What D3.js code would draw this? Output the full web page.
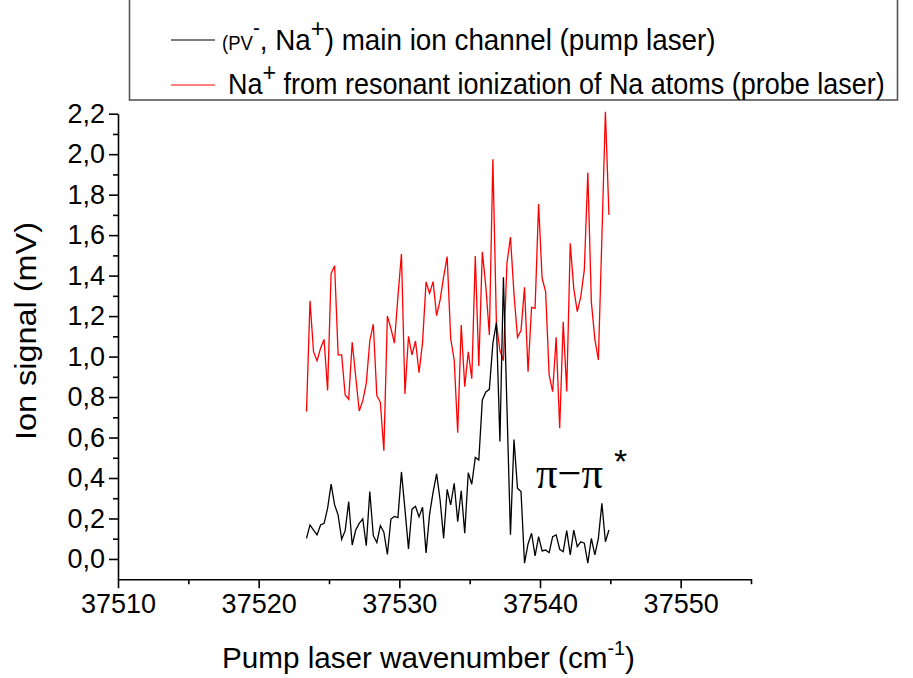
<!DOCTYPE html>
<html>
<head>
<meta charset="utf-8">
<script src="https://cdn.jsdelivr.net/npm/d3@7"></script>
<style>
  html, body { margin: 0; padding: 0; background: #fff; }
  svg { display: block; font-family: "Liberation Sans", Arial, sans-serif; }
</style>
</head>
<body>
<svg id="chart" width="913" height="678"></svg>
<script>
// ---- Data ----
const wavenumber = [
  37523.40, 37523.65, 37523.90, 37524.15, 37524.40, 37524.65, 37524.90, 37525.15, 37525.40, 37525.65,
  37525.90, 37526.15, 37526.40, 37526.65, 37526.90, 37527.15, 37527.40, 37527.65, 37527.90, 37528.15,
  37528.40, 37528.65, 37528.90, 37529.15, 37529.40, 37529.65, 37529.90, 37530.15, 37530.40, 37530.65,
  37530.90, 37531.15, 37531.40, 37531.65, 37531.90, 37532.15, 37532.40, 37532.65, 37532.90, 37533.15,
  37533.40, 37533.65, 37533.90, 37534.15, 37534.40, 37534.65, 37534.90, 37535.15, 37535.40, 37535.65,
  37535.90, 37536.15, 37536.40, 37536.65, 37536.90, 37537.15, 37537.40, 37537.65, 37537.90, 37538.15,
  37538.40, 37538.65, 37538.90, 37539.15, 37539.40, 37539.65, 37539.90, 37540.15, 37540.40, 37540.65,
  37540.90, 37541.15, 37541.40, 37541.65, 37541.90, 37542.15, 37542.40, 37542.65, 37542.90, 37543.15,
  37543.40, 37543.65, 37543.90, 37544.15, 37544.40, 37544.65, 37544.90
];

// (PV-, Na+) main ion channel (pump laser) — black
const mainIonSignal = [
  0.102, 0.168, 0.143, 0.119, 0.168, 0.176, 0.250, 0.370, 0.267, 0.217,
  0.097, 0.140, 0.283, 0.069, 0.143, 0.176, 0.198, 0.066, 0.333, 0.115,
  0.081, 0.165, 0.132, 0.022, 0.197, 0.210, 0.204, 0.430, 0.245, 0.050,
  0.246, 0.260, 0.208, 0.256, 0.030, 0.220, 0.330, 0.420, 0.290, 0.102,
  0.344, 0.267, 0.374, 0.184, 0.337, 0.127, 0.426, 0.369, 0.502, 0.489,
  0.786, 0.825, 0.838, 1.066, 1.168, 0.580, 1.392, 0.750, 0.120, 0.590,
  0.349, 0.333, -0.021, 0.074, 0.127, 0.015, 0.110, 0.040, 0.044, 0.031,
  0.110, 0.119, 0.048, 0.036, 0.140, 0.020, 0.143, 0.061, 0.085, 0.078,
  -0.021, 0.102, 0.020, 0.102, 0.275, 0.085, 0.143
];

// Na+ from resonant ionization of Na atoms (probe laser) — red
const naSignal = [
  0.728, 1.275, 1.024, 0.980, 1.041, 1.085, 0.832, 1.410, 1.449, 1.008,
  1.008, 0.810, 0.789, 1.071, 0.900, 0.731, 0.782, 0.868, 1.077, 1.160,
  0.807, 0.774, 0.535, 1.200, 1.140, 1.066, 1.296, 1.507, 0.815, 1.100,
  1.008, 1.077, 0.920, 1.069, 1.369, 1.313, 1.370, 1.202, 1.280, 1.395,
  1.494, 1.090, 0.983, 0.624, 1.156, 0.851, 1.024, 0.891, 1.497, 0.954,
  1.518, 1.345, 1.107, 1.975, 1.166, 1.030, 0.980, 1.461, 1.590, 1.310,
  1.095, 1.128, 1.342, 0.925, 1.243, 1.238, 1.754, 1.387, 1.321, 0.909,
  0.827, 1.095, 0.646, 1.172, 0.827, 1.560, 1.337, 1.222, 1.296, 1.428,
  1.909, 1.271, 1.085, 0.983, 1.590, 2.210, 1.700
];

const xTicks = [37510, 37520, 37530, 37540, 37550];
const xMinorTicks = [37515, 37525, 37535, 37545, 37555];
const yTicks = [0.0, 0.2, 0.4, 0.6, 0.8, 1.0, 1.2, 1.4, 1.6, 1.8, 2.0, 2.2];
const yTickLabels = ["0,0", "0,2", "0,4", "0,6", "0,8", "1,0", "1,2", "1,4", "1,6", "1,8", "2,0", "2,2"];
const yMinorTicks = [0.1, 0.3, 0.5, 0.7, 0.9, 1.1, 1.3, 1.5, 1.7, 1.9, 2.1];

// ---- Chart ----
const svg = d3.select("#chart");
const x = d3.scaleLinear().domain([37510, 37555]).range([118, 751]);
const y = d3.scaleLinear().domain([-0.1, 2.2]).range([579.2, 113.7]);

const FONT = '"Liberation Sans", Arial, sans-serif';

// fit a text element horizontally to a target width
function fit(textSel, tx, ty, targetW, rotate) {
  const w = textSel.node().getBBox().width;
  const k = targetW / w;
  textSel.attr("transform", `translate(${tx},${ty})` + (rotate ? ` rotate(${rotate})` : "") + ` scale(${k},1)`);
}

// X axis (major)
const xAxis = svg.append("g").attr("transform", `translate(0,${y(-0.1)})`)
  .call(d3.axisBottom(x).tickValues(xTicks).tickFormat(d3.format("d")).tickSize(9).tickSizeOuter(0).tickPadding(6));
xAxis.select(".domain").attr("stroke", "#000").attr("stroke-width", 1.6);
xAxis.selectAll(".tick line").attr("stroke", "#000").attr("stroke-width", 1.6);
xAxis.selectAll(".tick text").attr("font-family", FONT).attr("font-size", 27).attr("fill", "#000");
// X axis (minor)
const xAxisMinor = svg.append("g").attr("transform", `translate(0,${y(-0.1)})`)
  .call(d3.axisBottom(x).tickValues(xMinorTicks).tickFormat("").tickSize(5).tickSizeOuter(0));
xAxisMinor.select(".domain").remove();
xAxisMinor.selectAll(".tick line").attr("stroke", "#000").attr("stroke-width", 1.6);

// Y axis (major)
const yAxis = svg.append("g").attr("transform", `translate(${x(37510)},0)`)
  .call(d3.axisLeft(y).tickValues(yTicks).tickFormat((d, i) => yTickLabels[i]).tickSize(9).tickSizeOuter(0).tickPadding(4));
yAxis.select(".domain").attr("stroke", "#000").attr("stroke-width", 1.6);
yAxis.selectAll(".tick line").attr("stroke", "#000").attr("stroke-width", 1.6);
yAxis.selectAll(".tick text").attr("font-family", FONT).attr("font-size", 27).attr("fill", "#000");
// Y axis (minor)
const yAxisMinor = svg.append("g").attr("transform", `translate(${x(37510)},0)`)
  .call(d3.axisLeft(y).tickValues(yMinorTicks).tickFormat("").tickSize(5).tickSizeOuter(0));
yAxisMinor.select(".domain").remove();
yAxisMinor.selectAll(".tick line").attr("stroke", "#000").attr("stroke-width", 1.6);

// Lines
const line = (vals) => d3.line().x((d, i) => x(wavenumber[i])).y(d => y(d))(vals);
svg.append("path").attr("d", line(naSignal)).attr("fill", "none").attr("stroke", "#ff0000").attr("stroke-width", 1.3).attr("stroke-linejoin", "miter");
svg.append("path").attr("d", line(mainIonSignal)).attr("fill", "none").attr("stroke", "#000").attr("stroke-width", 1.3).attr("stroke-linejoin", "miter");

// Axis titles
const xt = svg.append("text").attr("font-family", FONT).attr("font-size", 30).attr("fill", "#000");
xt.append("tspan").text("Pump laser wavenumber (cm");
xt.append("tspan").attr("font-size", 20).attr("dy", -13).text("-1");
xt.append("tspan").attr("dy", 13).text(")");
fit(xt, 222, 668, 413);

const yt = svg.append("text").attr("font-family", FONT).attr("font-size", 30).attr("fill", "#000")
  .attr("text-anchor", "middle").text("Ion signal (mV)");
fit(yt, 36, 331, 218, -90);

// Annotation π–π*
const ann = svg.append("text").attr("font-family", '"Liberation Serif", "DejaVu Serif", serif').attr("font-size", 44).attr("fill", "#000");
ann.text("π−π");
fit(ann, 536, 488, 67);
svg.append("text").attr("font-family", FONT).attr("font-size", 34).attr("fill", "#000")
  .attr("x", 614).attr("y", 473).text("*");

// Legend
svg.append("rect").attr("x", 129.5).attr("y", -2).attr("width", 768).attr("height", 102)
  .attr("fill", "#fff").attr("stroke", "#555").attr("stroke-width", 1.6);
svg.append("line").attr("x1", 171).attr("x2", 215).attr("y1", 40).attr("y2", 40).attr("stroke", "#000").attr("stroke-width", 1.2);
svg.append("line").attr("x1", 171).attr("x2", 215).attr("y1", 85).attr("y2", 85).attr("stroke", "#ff0000").attr("stroke-width", 1.2);

const l1 = svg.append("text").attr("font-family", FONT).attr("font-size", 30).attr("fill", "#000");
l1.append("tspan").attr("font-size", 20).text("(PV");
l1.append("tspan").attr("font-size", 22).attr("dy", -15).text("-");
l1.append("tspan").attr("dy", 15).text(", Na");
l1.append("tspan").attr("font-size", 26).attr("dy", -13).text("+");
l1.append("tspan").attr("dy", 13).text(") main ion channel (pump laser)");
fit(l1, 222, 50, 494);

const l2 = svg.append("text").attr("font-family", FONT).attr("font-size", 30).attr("fill", "#000");
l2.append("tspan").text("Na");
l2.append("tspan").attr("font-size", 26).attr("dy", -13).text("+");
l2.append("tspan").attr("dy", 13).text(" from resonant ionization of Na atoms (probe laser)");
fit(l2, 228, 94, 657);
</script>
</body>
</html>
